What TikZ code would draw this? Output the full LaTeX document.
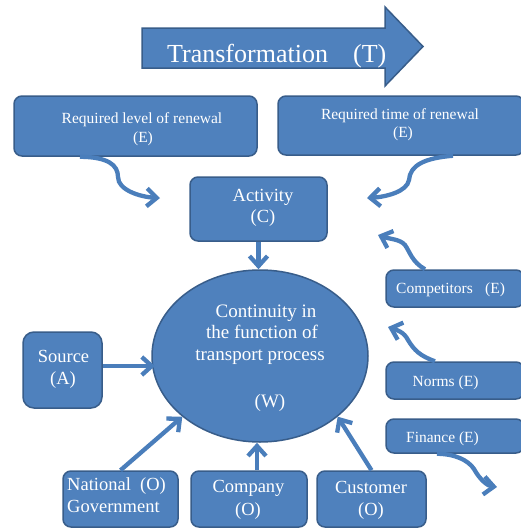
\documentclass[tikz,border=0pt]{standalone}
\usepackage{fontspec}
\setmainfont{Liberation Serif}
\usetikzlibrary{arrows.meta,shapes.geometric}
\definecolor{bfill}{RGB}{79,129,189}
\definecolor{bdraw}{RGB}{56,93,138}
\definecolor{conncol}{RGB}{74,126,187}
\begin{document}
\begin{tikzpicture}[x=1pt,y=-1pt,
  box/.style={draw=bdraw, fill=bfill, line width=1.5pt, rounded corners=8pt, inner sep=0pt},
  conn/.style={draw=conncol, line width=4.3pt, -{Straight Barb[length=10pt,width=18pt]}},
  txt/.style={text=white, inner sep=0pt, anchor=base},
  tS/.style={txt, font=\fontsize{15.5}{19}\selectfont},
  tM/.style={txt, font=\fontsize{18.5}{22}\selectfont},
  tL/.style={txt, font=\fontsize{19}{21}\selectfont},
  tXL/.style={txt, font=\fontsize{26}{30}\selectfont}]
\useasboundingbox (0,0) rectangle (521,528);
\fill[white] (0,0) rectangle (521,528);
\clip (0,0) rectangle (521,528);

% big arrow
\filldraw[fill=bfill, draw=bdraw, line width=1.5pt]
  (142,28) -- (385,28) -- (385,7) -- (423,46.5) -- (385,86) -- (385,68) -- (142,68) -- cycle;
\node[tXL, anchor=base west] (tr1) at (167,62) {Transformation};
\node[tXL, anchor=base west] (tr2) at (353,62) {(T)};

% boxes
\node[box, minimum width=243pt, minimum height=60pt] (rl) at (135.5,126) {};
\node[box, minimum width=246pt, minimum height=59pt] (rt) at (401,125.5) {};
\node[box, minimum width=137pt, minimum height=64pt] (act) at (258.5,209) {};
\node[box, rounded corners=11pt, minimum width=79pt, minimum height=76pt] (src) at (62.5,370) {};
\node[box, minimum width=138pt, minimum height=37pt] (ce) at (455,288.5) {};
\node[box, minimum width=138pt, minimum height=37pt] (nm) at (455,380.5) {};
\node[box, minimum width=138pt, minimum height=34pt] (fn) at (455,436) {};
\node[box, minimum width=115pt, minimum height=56pt] (nat) at (120.5,499) {};
\node[box, minimum width=116pt, minimum height=56pt] (comp) at (249,499) {};
\node[box, minimum width=109pt, minimum height=56pt] (cust) at (371.5,499) {};
\node[ellipse, draw=bdraw, fill=bfill, line width=1.5pt, inner sep=0pt,
      minimum width=216pt, minimum height=172pt] (W) at (260,356) {};

% texts
\node[tS] (rl1) at (142,123) {Required level of renewal};
\node[tS] (rl2) at (143,142) {(E)};
\node[tS] (rt1) at (400,119) {Required time of renewal};
\node[tS] (rt2) at (403,137) {(E)};
\node[tM] (act1) at (263,201) {Activity};
\node[tM] (act2) at (263,222) {(C)};
\node[tM] (src1) at (63.5,362) {Source};
\node[tM] (src2) at (63,384) {(A)};
\node[tL] (w1) at (266,317) {Continuity in};
\node[tL] (w2) at (262,338) {the function of};
\node[tL] (w3) at (260,360) {transport process};
\node[tL] (w4) at (270,407) {(W)};
\node[tS, anchor=base west] (ce1) at (396,293) {Competitors};
\node[tS, anchor=base west] (ce2) at (485,293) {(E)};
\node[tS] (nm1) at (445.5,386) {Norms (E)};
\node[tS] (fn1) at (442.5,442) {Finance (E)};
\node[tM, anchor=base west] (nat1) at (67,490) {National\ \ (O)};
\node[tM, anchor=base west] (nat2) at (67,512) {Government};
\node[tM] (comp1) at (248.5,492) {Company};
\node[tM] (comp2) at (248,515) {(O)};
\node[tM] (cust1) at (371,493) {Customer};
\node[tM] (cust2) at (371,515) {(O)};

% straight connectors
\draw[conn] (act.south) -- (act.south |- W.north);
\draw[conn] (src.east |- 0,366) -- (155,366);
\draw[conn] (nat.north) -- (W.218);
\draw[conn] ([xshift=8pt]comp.north) -- ([xshift=8pt]comp.north |- W.south);
\draw[conn] (cust.north) -- (W.322);

% curly connectors
\coordinate (t1) at (160,198);
\coordinate (t2) at (367,198);
\coordinate (t3) at (378,235);
\coordinate (t4) at (388,327);
\coordinate (t5) at (497,487);
\draw[conn] (rl.south -| 80,0) .. controls (108,157) and (118,165) .. (118,177)
  .. controls (118,190) and (140,197) .. (t1);
\draw[conn] (rt.south -| 453,0) .. controls (425,158) and (410,165) .. (409,180)
  .. controls (407,192) and (385,197) .. (t2);
\draw[conn] (ce.north -| 425,0) .. controls (412,262) and (410,252) .. (405,245)
  .. controls (400,239) and (389,239) .. (t3);
\draw[conn] (nm.north -| 435,0) .. controls (420,356) and (414,350) .. (408,340)
  .. controls (404,332) and (397,330) .. (t4);
\draw[conn] (fn.south -| 437,0) .. controls (455,454) and (468,460) .. (474,469)
  .. controls (480,480) and (488,486) .. (t5);
\end{tikzpicture}
\end{document}
